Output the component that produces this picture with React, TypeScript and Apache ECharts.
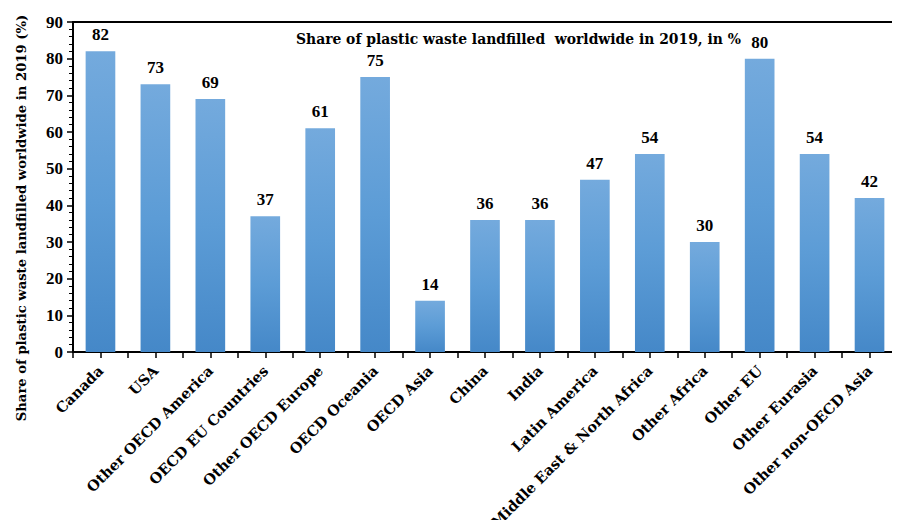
import React, { useEffect, useRef } from "react";
import * as echarts from "echarts";

const categories = [
  "Canada",
  "USA",
  "Other OECD America",
  "OECD EU Countries",
  "Other OECD Europe",
  "OECD Oceania",
  "OECD Asia",
  "China",
  "India",
  "Latin America",
  "Middle East & North Africa",
  "Other Africa",
  "Other EU",
  "Other Eurasia",
  "Other non-OECD Asia",
];

const landfilledShare = [82, 73, 69, 37, 61, 75, 14, 36, 36, 47, 54, 30, 80, 54, 42];

const chartTitle = "Share of plastic waste landfilled  worldwide in 2019, in %";
const yAxisTitle = "Share of plastic waste landfilled worldwide in 2019 (%)";

const WIDE_SERIF = "'DejaVu Serif', 'Liberation Serif', serif";
const NUM_SERIF = "'Liberation Serif', 'DejaVu Serif', serif";

// Half-category slots used only to draw ticks at both bar centres and boundaries
const halfSlots = Array.from({ length: categories.length * 2 }, (_, i) => String(i));

export default function App() {
  const ref = useRef<HTMLDivElement>(null);

  useEffect(() => {
    if (!ref.current) return;
    const chart = echarts.init(ref.current, null, { renderer: "svg" });

    const barFill = new echarts.graphic.LinearGradient(0, 0, 0, 1, [
      { offset: 0, color: "#74AADD" },
      { offset: 0.5, color: "#5C9CD6" },
      { offset: 1, color: "#4588C8" },
    ]);

    chart.setOption({
      animation: false,
      backgroundColor: "#ffffff",
      title: {
        text: chartTitle,
        left: 291,
        top: 27,
        textStyle: {
          fontFamily: WIDE_SERIF,
          fontWeight: "bold",
          fontSize: 13.9,
          color: "#000",
        },
      },
      grid: {
        left: 73,
        right: 3,
        top: 22,
        bottom: 176,
        containLabel: false,
        outerBoundsMode: "none",
      },
      xAxis: [
        {
          type: "category",
          data: categories,
          position: "bottom",
          axisLine: { show: true, lineStyle: { color: "#000", width: 2 } },
          axisTick: { show: false },
          axisLabel: {
            rotate: 45,
            interval: 0,
            margin: 16,
            fontFamily: WIDE_SERIF,
            fontWeight: "bold",
            fontSize: 14.5,
            color: "#000",
          },
          splitLine: { show: false },
        },
        {
          type: "category",
          data: halfSlots,
          position: "bottom",
          axisLine: { show: false },
          axisTick: {
            show: true,
            interval: 0,
            length: 6,
            lineStyle: { color: "#000", width: 1.5 },
          },
          axisLabel: { show: false },
          splitLine: { show: false },
        },
        {
          type: "category",
          data: categories,
          position: "top",
          axisLine: { show: true, lineStyle: { color: "#000", width: 2 } },
          axisTick: { show: false },
          axisLabel: { show: false },
        },
      ],
      yAxis: {
        type: "value",
        min: 0,
        max: 90,
        interval: 10,
        axisLine: { show: true, lineStyle: { color: "#000", width: 2 } },
        axisTick: { show: true, length: 6, lineStyle: { color: "#000", width: 1.5 } },
        minorTick: { show: true, splitNumber: 5, length: 4, lineStyle: { color: "#000", width: 1 } },
        splitLine: { show: false },
        axisLabel: {
          margin: 10,
          fontFamily: NUM_SERIF,
          fontWeight: "bold",
          fontSize: 17,
          color: "#000",
        },
      },
      graphic: [
        {
          type: "text",
          x: 21,
          y: 218,
          rotation: Math.PI / 2,
          style: {
            text: yAxisTitle,
            align: "center",
            verticalAlign: "middle",
            fontFamily: WIDE_SERIF,
            fontWeight: "bold",
            fontSize: 13.2,
            fill: "#000",
          },
        },
      ],
      series: [
        {
          type: "bar",
          xAxisIndex: 0,
          data: landfilledShare,
          barWidth: "54%",
          itemStyle: { color: barFill },
          label: {
            show: true,
            position: "top",
            distance: 8,
            fontFamily: NUM_SERIF,
            fontWeight: "bold",
            fontSize: 17,
            color: "#000",
          },
        },
      ],
    });

    return () => chart.dispose();
  }, []);

  return <div ref={ref} style={{ width: 900, height: 528, margin: -8 }} />;
}
